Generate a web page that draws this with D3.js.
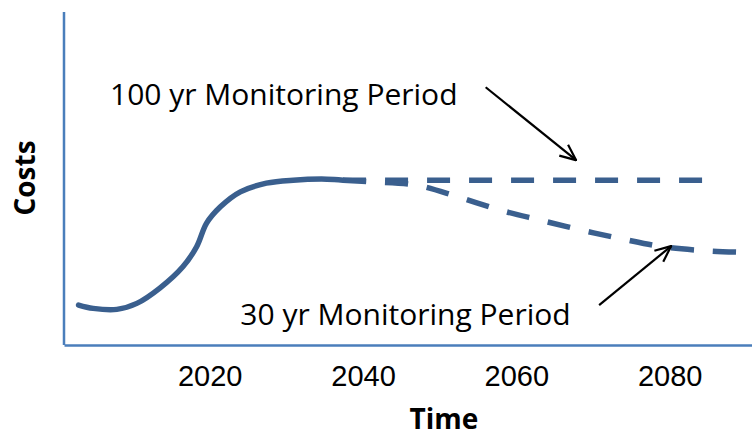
<!DOCTYPE html>
<html>
<head>
<meta charset="utf-8">
<script src="https://cdn.jsdelivr.net/npm/d3@7"></script>
<style>
    body { margin: 0; background: #fff; }
    svg { display: block; font-family: "Open Sans", sans-serif; }
    .tick text { font-size: 29px; fill: #000; }
    .title { font-weight: bold; font-size: 28px; }
    .note { font-size: 30px; }
</style>
</head>
<body>
<svg id="chart" width="752" height="437"></svg>
<script>
    // build-up phase, then the two monitoring scenarios
    const buildYears  = [2002.9, 2004.8, 2007.9, 2010.5, 2013.5, 2016.5, 2018.3, 2019.6, 2021.4, 2024.0, 2027.4, 2030.9, 2035.3, 2037.4];
    const buildCosts  = [12.0, 11.0, 10.7, 12.5, 17.1, 23.5, 29.5, 36.6, 41.5, 46.0, 48.6, 49.5, 49.8, 49.5];

    const years100 = [2037.4, 2085.4];
    const costs100 = [49.5, 49.5];

    const years30 = [2037.4, 2041.3, 2047.0, 2052.4, 2057.9, 2063.1, 2068.5, 2073.9, 2079.1, 2084.8, 2090.0, 2091.0];
    const costs30 = [49.5, 49.0, 48.0, 44.5, 40.5, 37.5, 34.5, 31.8, 29.5, 28.3, 27.8, 27.7];

    const tickYears = [2020, 2040, 2060, 2080];

    // annotations: label, text position (year, cost), arrow from / to (year, cost)
    const noteLabels = ["100 yr Monitoring Period", "30 yr Monitoring Period"];
    const noteText   = [[2007.0, 72.0], [2024.0, 6.0]];
    const noteFrom   = [[2056.0, 77.4], [2070.8, 12.0]];
    const noteTo     = [[2067.8, 55.5], [2080.2, 29.7]];

    const svg = d3.select("#chart");
    const margin = {top: 12, left: 64, bottom: 92, right: -2};
    const width = 752 - margin.left - margin.right;
    const height = 437 - margin.top - margin.bottom;

    const x = d3.scaleLinear().domain([2001, 2091]).range([margin.left, margin.left + width]);
    const y = d3.scaleLinear().domain([0, 100]).range([margin.top + height, margin.top]);

    const axisColor = "#4a7ebb";
    const lineColor = "#3a5f8e";

    // axes
    const xAxis = svg.append("g")
        .attr("transform", "translate(0," + (margin.top + height) + ")")
        .call(d3.axisBottom(x).tickValues(tickYears).tickFormat(d3.format("d")).tickSize(0).tickPadding(20));
    xAxis.select(".domain").attr("stroke", axisColor).attr("stroke-width", 2.5);
    xAxis.selectAll(".tick text").attr("font-family", null);

    svg.append("line")
        .attr("x1", x(2001)).attr("x2", x(2001))
        .attr("y1", y(100)).attr("y2", y(0))
        .attr("stroke", axisColor).attr("stroke-width", 2.5);

    svg.append("text").attr("class", "title")
        .attr("x", 444).attr("y", 429)
        .attr("text-anchor", "middle")
        .text("Time");

    svg.append("text").attr("class", "title")
        .attr("transform", "translate(35,178) rotate(-90)")
        .attr("text-anchor", "middle")
        .text("Costs");

    // lines
    const line = d3.line()
        .x(function(d) { return x(d[0]); })
        .y(function(d) { return y(d[1]); })
        .curve(d3.curveCatmullRom);

    svg.append("path")
        .datum(d3.zip(years100, costs100))
        .attr("d", line)
        .attr("fill", "none").attr("stroke", lineColor).attr("stroke-width", 5.5)
        .attr("stroke-dasharray", "23 19");

    svg.append("path")
        .datum(d3.zip(years30, costs30))
        .attr("d", line)
        .attr("fill", "none").attr("stroke", lineColor).attr("stroke-width", 5.5)
        .attr("stroke-dasharray", "23 19");

    svg.append("path")
        .datum(d3.zip(buildYears, buildCosts))
        .attr("d", line)
        .attr("fill", "none").attr("stroke", lineColor).attr("stroke-width", 5.5)
        .attr("stroke-linecap", "round");

    // annotations
    svg.append("defs").append("marker")
        .attr("id", "arrow")
        .attr("markerUnits", "userSpaceOnUse")
        .attr("viewBox", "0 0 18 18")
        .attr("refX", 17).attr("refY", 9)
        .attr("markerWidth", 18).attr("markerHeight", 18)
        .attr("orient", "auto")
        .append("path")
        .attr("d", "M1,2 L17,9 L1,16")
        .attr("fill", "none").attr("stroke", "#000").attr("stroke-width", 2.2);

    noteLabels.forEach(function(label, i) {
        svg.append("text").attr("class", "note")
            .attr("x", x(noteText[i][0])).attr("y", y(noteText[i][1]))
            .text(label);
        svg.append("line")
            .attr("x1", x(noteFrom[i][0])).attr("y1", y(noteFrom[i][1]))
            .attr("x2", x(noteTo[i][0])).attr("y2", y(noteTo[i][1]))
            .attr("stroke", "#000").attr("stroke-width", 2.2)
            .attr("marker-end", "url(#arrow)");
    });
</script>
</body>
</html>
